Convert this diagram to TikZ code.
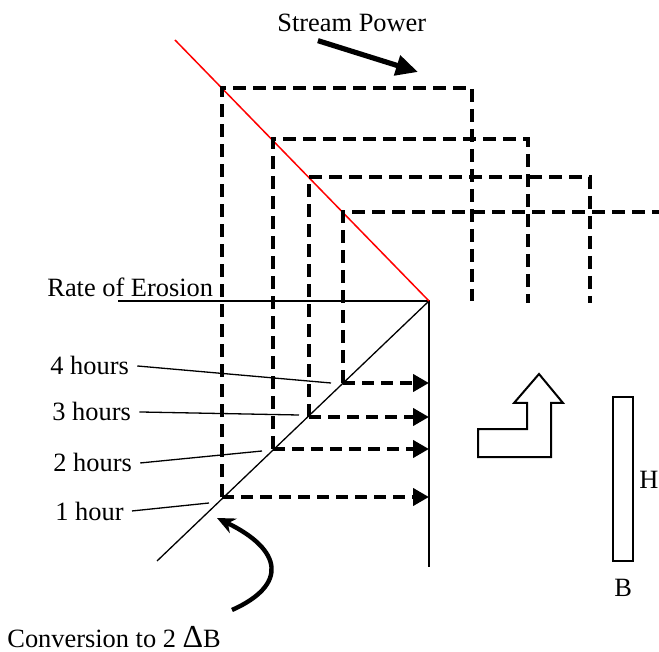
\documentclass[tikz,border=0pt]{standalone}
\usepackage{fontspec}
\setmainfont{Liberation Serif}
\usetikzlibrary{arrows.meta}
\tikzset{
  thinline/.style={line width=0.65pt},
  dashbox/.style={line width=2pt,dash pattern=on 6.5pt off 3.5pt},
  hourarrow/.style={line width=2.2pt,dash pattern=on 6pt off 3.5pt,-{Triangle[length=8pt,width=8.5pt]}},
  lbl/.style={font=\fontsize{13.2pt}{16pt}\selectfont,anchor=base west,inner sep=4pt},
}

\begin{document}
\begin{tikzpicture}[x=0.5pt,y=-0.5pt]
        \useasboundingbox (0,0) rectangle (659,652);
        %
        \coordinate (O) at (429,301);
        \coordinate (e0) at (118,301);
        \coordinate (ax) at (429,567);
        \coordinate (dg) at (157,561);
        \coordinate (rt) at (175,40);
        %
        \draw[thinline] (e0) -- (O) -- (ax); % Rate of erosion / time axis
        \draw[thinline] (dg) -- (O);
        \draw[red,line width=0.75pt] (rt) -- (O); % Stream power
        %
        \coordinate (d1) at (222,497); \coordinate (c1) at (222,88);
        \coordinate (d2) at (273,449); \coordinate (c2) at (273,139);
        \coordinate (d3) at (309,417); \coordinate (c3) at (309,177);
        \coordinate (d4) at (343,383); \coordinate (c4) at (343,212);
        %
        \draw[dashbox] (d1) -- (c1) -- (472,88) -- (472,301); % 1 hour
        \draw[dashbox] (d2) -- (c2) -- (528,139) -- (528,303); % 2 hours
        \draw[dashbox] (d3) -- (c3) -- (590,177) -- (590,303); % 3 hours
        \draw[dashbox] (d4) -- (c4) -- (659,212); % 4 hours
        %
        \draw[hourarrow] (d1) -- (d1 -| O);
        \draw[hourarrow] (d2) -- (d2 -| O);
        \draw[hourarrow] (d3) -- (d3 -| O);
        \draw[hourarrow] (d4) -- (d4 -| O);
        %
        \node[lbl] (sp) at (269,32) {Stream Power};
        \coordinate (spT) at (418,72);
        \draw[line width=2.6pt,-{Triangle[length=11pt,width=10pt]}] (sp.-153) -- (spT);
        %
        \node[lbl] (roe) at (39,297) {Rate of Erosion};
        \node[lbl] (h4) at (42,375) {4 hours};
        \node[lbl] (h3) at (44,421) {3 hours};
        \node[lbl] (h2) at (45,472) {2 hours};
        \node[lbl] (h1) at (47,520) {1 hour};
        \coordinate (t4) at (331,383);
        \coordinate (t3) at (299,415);
        \coordinate (t2) at (262,451);
        \coordinate (t1) at (209,503);
        \draw[thinline] (h4.east) -- (t4);
        \draw[thinline] (h3.east) -- (t3);
        \draw[thinline] (h2.east) -- (t2);
        \draw[thinline] (h1.east) -- (t1);
        %
        \node[lbl] (conv) at (-1,647) {Conversion to 2 {\fontsize{16pt}{16pt}\selectfont Δ}B};
        \coordinate (cvA) at (232,610);
        \coordinate (cvT) at (217,518);
        \draw[line width=2.2pt,-{Stealth[length=9pt,width=8pt]}] (cvA) .. controls (288,585) and (283,550) .. (cvT);
        %
        \draw[line width=1pt] (539,374) -- (563,403) -- (551,403) -- (551,457) -- (478,457)
          -- (478,429) -- (527,429) -- (527,403) -- (514,403) -- cycle; % upward turn
        \draw[line width=1pt] (613,397) rectangle (633,561); % section
        \node[lbl] (hl) at (631,488) {H};
        \node[lbl] (bl) at (606,596) {B};
      \end{tikzpicture}
\end{document}
